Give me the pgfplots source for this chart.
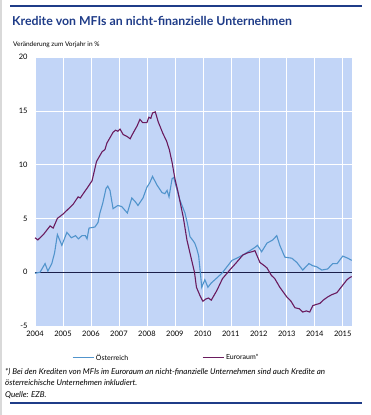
\documentclass[border=0pt]{standalone}
\usepackage{pgfplots}
\pgfplotsset{compat=1.18}
\usepackage{fontspec}
\setmainfont{Lato}
\definecolor{bgblue}{HTML}{C2D5F7}
\definecolor{oeblue}{HTML}{5194CC}
\definecolor{eupurple}{HTML}{6A1B5E}
\definecolor{titleblue}{HTML}{1F3C88}
\definecolor{zeroline}{HTML}{1A1F4A}
\begin{document}
\begin{tikzpicture}[x=1pt,y=1pt]
\path[use as bounding box] (0,0) rectangle (370,-415);
\draw[gray!30,line width=1.5pt] (0.75,0) -- (0.75,-415);
\draw[titleblue,line width=1.3pt] (10,-6) -- (362,-6);
\node[anchor=base west,inner sep=0,text=titleblue,font=\fontsize{12.3}{14}\selectfont\bfseries] at (12,-25) {Kredite von MFIs an nicht-finanzielle Unternehmen};
\node[anchor=base west,inner sep=0,font=\fontsize{6.5}{8}\selectfont] at (13,-46) {Veränderung zum Vorjahr in \%};
\begin{axis}[
  at={(35pt,-57pt)}, anchor=north west,
  width=317pt, height=269pt, scale only axis,
  xmin=2004, xmax=2015.33, ymin=-5, ymax=20,
  axis background/.style={fill=bgblue},
  axis line style={draw=none},
  xtick={2004,...,2015}, ytick={-5,0,5,10,15,20},
  grid=major, major grid style={white,line width=0.6pt},
  tick style={draw=none},
  /pgf/number format/assume math mode=true,
  xticklabel={\pgfmathprintnumber[1000 sep={}]{\tick}},
  ticklabel style={font=\fontsize{7.5}{8}\selectfont},
  xtick pos=bottom, ytick pos=left,
  xticklabel shift=2pt, yticklabel shift=4pt,
  legend style={at={(0.117,-0.118)}, anchor=west, draw=none, fill=none,
    legend columns=2, font=\fontsize{7}{8}\selectfont,
    /tikz/every even column/.append style={column sep=72pt},
    inner sep=0pt},
  legend image code/.code={\draw[#1,line width=0.7pt] (0pt,0pt) -- (21pt,0pt);},
  clip=false,
]
\addplot[zeroline, line width=0.8pt, forget plot] coordinates {(2004,0) (2015.33,0)};
\addplot[oeblue, line width=1.1pt] coordinates {
(2004.0,-0.1)(2004.18,0.0)(2004.36,0.8)(2004.46,0.1)(2004.6,0.8)(2004.7,1.8)(2004.8,3.5)(2004.96,2.5)(2005.14,3.7)(2005.3,3.2)(2005.45,3.4)(2005.55,3.1)(2005.68,3.4)(2005.8,3.4)(2005.86,3.1)(2005.93,4.1)(2006.14,4.2)(2006.25,4.6)(2006.32,5.5)(2006.42,6.4)(2006.54,7.8)(2006.6,8.0)(2006.68,7.6)(2006.79,5.9)(2006.96,6.2)(2007.1,6.1)(2007.3,5.5)(2007.46,6.9)(2007.6,6.5)(2007.68,6.2)(2007.86,6.9)(2008.0,7.9)(2008.1,8.3)(2008.2,8.9)(2008.36,8.1)(2008.54,7.4)(2008.64,7.3)(2008.72,7.6)(2008.79,7.0)(2008.9,8.7)(2008.96,8.8)(2009.05,7.9)(2009.18,6.7)(2009.36,5.5)(2009.45,4.5)(2009.54,3.3)(2009.63,3.0)(2009.71,2.7)(2009.78,2.2)(2009.85,1.5)(2009.9,0.2)(2009.96,-1.4)(2010.07,-0.7)(2010.18,-1.4)(2010.3,-1.0)(2010.43,-0.7)(2010.68,-0.1)(2010.86,0.5)(2011.04,1.1)(2011.21,1.3)(2011.43,1.6)(2011.68,2.0)(2011.86,2.3)(2011.95,2.5)(2012.1,1.9)(2012.29,2.7)(2012.5,3.0)(2012.64,3.4)(2012.75,2.5)(2012.93,1.4)(2013.18,1.3)(2013.36,0.9)(2013.57,0.2)(2013.79,0.8)(2013.93,0.6)(2014.07,0.5)(2014.25,0.2)(2014.46,0.3)(2014.64,0.8)(2014.8,0.8)(2015.0,1.5)(2015.18,1.3)(2015.32,1.1)
};
\addlegendentry{Österreich}
\addplot[eupurple, line width=1.1pt] coordinates {
(2004.0,3.2)(2004.1,3.0)(2004.3,3.5)(2004.54,4.3)(2004.65,4.1)(2004.8,5.0)(2005.0,5.4)(2005.2,5.9)(2005.36,6.3)(2005.54,7.0)(2005.62,6.9)(2005.75,7.4)(2005.86,7.8)(2006.04,8.5)(2006.2,10.3)(2006.4,11.2)(2006.5,11.4)(2006.57,12.0)(2006.79,13.0)(2006.88,13.2)(2006.96,13.1)(2007.04,13.3)(2007.15,12.8)(2007.3,12.6)(2007.4,12.4)(2007.5,12.9)(2007.65,13.6)(2007.75,14.2)(2007.85,13.9)(2008.0,13.9)(2008.07,14.4)(2008.14,14.3)(2008.2,14.8)(2008.3,14.9)(2008.4,14.0)(2008.57,12.9)(2008.7,12.2)(2008.8,11.4)(2008.9,10.2)(2009.0,8.7)(2009.1,7.6)(2009.3,5.1)(2009.43,3.0)(2009.6,1.1)(2009.7,0.0)(2009.77,-1.4)(2009.9,-2.2)(2010.0,-2.7)(2010.1,-2.5)(2010.2,-2.4)(2010.3,-2.6)(2010.5,-1.7)(2010.7,-0.6)(2010.96,0.2)(2011.2,0.9)(2011.43,1.6)(2011.6,1.8)(2011.75,1.9)(2011.86,2.0)(2012.04,0.9)(2012.2,0.6)(2012.29,0.4)(2012.45,-0.3)(2012.57,-0.6)(2012.75,-1.4)(2013.0,-2.3)(2013.15,-2.7)(2013.29,-3.3)(2013.45,-3.4)(2013.57,-3.7)(2013.7,-3.6)(2013.82,-3.7)(2013.93,-3.1)(2014.05,-3.0)(2014.18,-2.9)(2014.3,-2.6)(2014.46,-2.3)(2014.6,-2.1)(2014.79,-1.9)(2015.0,-1.2)(2015.15,-0.7)(2015.25,-0.5)(2015.32,-0.4)
};
\addlegendentry{Euroraum*}
\end{axis}
\node[anchor=base west,inner sep=0,font=\fontsize{8.0}{9}\selectfont\itshape] at (5,-374) {*) Bei den Krediten von MFIs im Euroraum an nicht-finanzielle Unternehmen sind auch Kredite an};
\node[anchor=base west,inner sep=0,font=\fontsize{8.0}{9}\selectfont\itshape] at (5,-385) {österreichische Unternehmen inkludiert.};
\node[anchor=base west,inner sep=0,font=\fontsize{8.0}{9}\selectfont\itshape] at (5,-397) {Quelle: EZB.};
\draw[titleblue,line width=1.3pt] (10,-403) -- (362,-403);
\end{tikzpicture}
\end{document}
